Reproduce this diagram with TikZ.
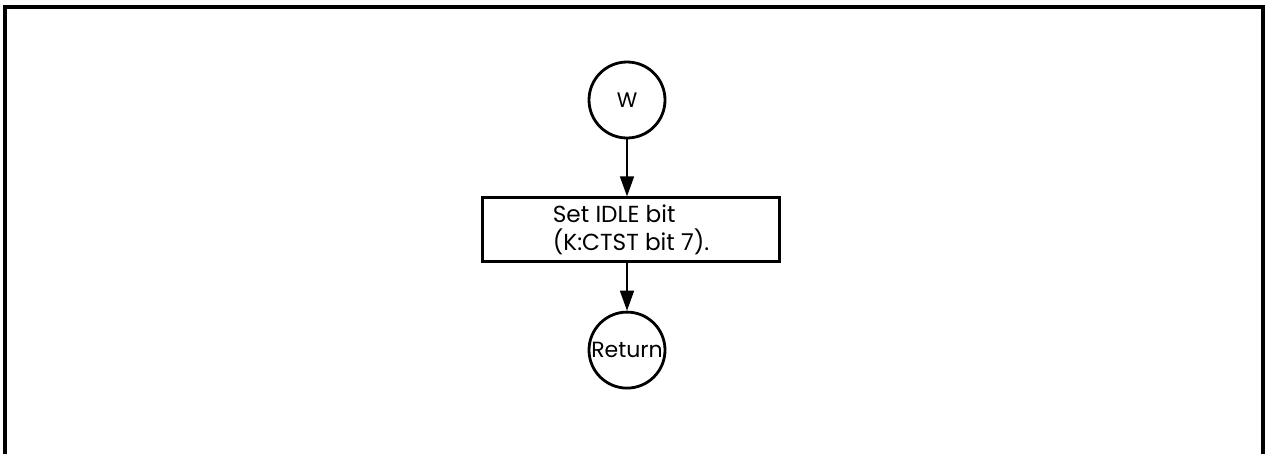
\documentclass[tikz,border=0pt]{standalone}
\usepackage{fontspec}
\setmainfont{Poppins}
\usetikzlibrary{positioning}
\usetikzlibrary{arrows.meta}

\tikzset{
    connector/.style={circle, draw, line width=1.4pt, minimum size=38pt, inner sep=0pt},
    stepbox/.style={draw, line width=1.5pt, minimum width=148.5pt, minimum height=29.5pt, align=left},
    flow/.style={draw, line width=0.8pt, -{Triangle[length=10pt,width=7pt]}},
}

\begin{document}
\begin{tikzpicture}[x=0.5pt, y=-0.5pt, font=\fontsize{11.6}{14}\selectfont]
    \useasboundingbox (0,0) rectangle (1272,454);
    \draw[line width=2pt] (5,454) |- (1263,7) -- (1263,454);
    \node[connector, font=\fontsize{10.5}{12}\selectfont] (w) at (627,100) {W};
    \node[stepbox, below=28.5pt of w, xshift=2pt] (idle) {Set IDLE bit\\(K:CTST bit 7).};
    \node[connector, below=24pt of idle, xshift=-2pt, font=\fontsize{11}{12}\selectfont] (ret) {Return};
    \draw[flow] (w) -- (w |- idle.north);
    \draw[flow] (ret |- idle.south) -- (ret);
\end{tikzpicture}
\end{document}
